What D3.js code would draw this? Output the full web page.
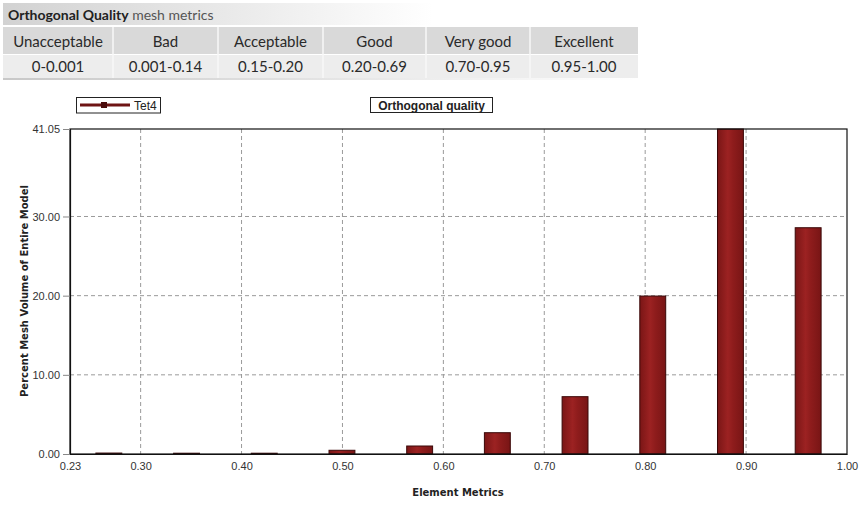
<!DOCTYPE html>
<html>
<head>
<meta charset="utf-8">
<script src="https://cdn.jsdelivr.net/npm/d3@7/dist/d3.min.js"></script>
<style>
  html, body { margin: 0; padding: 0; background: #fff; }
  svg { display: block; }
</style>
</head>
<body>
<svg id="chart" width="862" height="505"></svg>
<script>
// Mesh quality bands shown in the header table
const qualityBands = ["Unacceptable", "Bad", "Acceptable", "Good", "Very good", "Excellent"];
const bandRanges = ["0-0.001", "0.001-0.14", "0.15-0.20", "0.20-0.69", "0.70-0.95", "0.95-1.00"];

// Histogram of orthogonal quality (Tet4 elements)
const seriesName = "Tet4";
const binCenters = [0.2685, 0.3455, 0.4225, 0.4995, 0.5765, 0.6535, 0.7305, 0.8075, 0.8845, 0.9615];
const percentVolume = [0.12, 0.10, 0.10, 0.47, 1.01, 2.69, 7.24, 19.95, 41.05, 28.58];

// Axis ticks
const xTicks = [0.23, 0.30, 0.40, 0.50, 0.60, 0.70, 0.80, 0.90, 1.00];
const yTicks = [0, 10, 20, 30, 41.05];
const xGrid = [0.30, 0.40, 0.50, 0.60, 0.70, 0.80, 0.90];
const yGrid = [10, 20, 30];

const svg = d3.select("#chart");
const defs = svg.append("defs");

// ---------- header table ----------
const titleGrad = defs.append("linearGradient").attr("id", "titleGrad")
  .attr("x1", "0").attr("x2", "1").attr("y1", "0").attr("y2", "0");
titleGrad.append("stop").attr("offset", "0").attr("stop-color", "#d2d2d2");
titleGrad.append("stop").attr("offset", "0.45").attr("stop-color", "#e6e6e6");
titleGrad.append("stop").attr("offset", "1").attr("stop-color", "#ffffff");

const tableFont = "Lato, 'Open Sans', sans-serif";
svg.append("rect").attr("x", 3).attr("y", 3).attr("width", 430).attr("height", 22)
  .attr("fill", "url(#titleGrad)");
const head = svg.append("text").attr("x", 8).attr("y", 20)
  .attr("font-family", tableFont).attr("font-size", 14).attr("fill", "#222");
head.append("tspan").attr("font-weight", "bold").text("Orthogonal Quality");
head.append("tspan").attr("fill", "#555").text(" mesh metrics");

const colEdges = [3, 113, 218, 323, 426, 530, 638];
svg.append("rect").attr("x", 3).attr("y", 27).attr("width", 635).attr("height", 27).attr("fill", "#d9d9d9");
svg.append("rect").attr("x", 3).attr("y", 55).attr("width", 635).attr("height", 23).attr("fill", "#ededed");
const grad2 = defs.append("linearGradient").attr("id", "lineGrad")
  .attr("x1", "0").attr("x2", "1").attr("y1", "0").attr("y2", "0");
grad2.append("stop").attr("offset", "0").attr("stop-color", "#c8c8c8");
grad2.append("stop").attr("offset", "1").attr("stop-color", "#ffffff");
svg.append("rect").attr("x", 3).attr("y", 78).attr("width", 635).attr("height", 2).attr("fill", "url(#lineGrad)");

qualityBands.forEach((b, i) => {
  const x0 = colEdges[i], x1 = colEdges[i + 1];
  if (i > 0) {
    svg.append("line").attr("x1", x0).attr("x2", x0).attr("y1", 27).attr("y2", 78)
      .attr("stroke", "#f7f7f7").attr("stroke-width", 1.5);
  }
  svg.append("text").attr("x", (x0 + x1) / 2).attr("y", 47).attr("text-anchor", "middle")
    .attr("font-family", tableFont).attr("font-size", 15).attr("fill", "#2a2a2a").text(b);
  svg.append("text").attr("x", (x0 + x1) / 2).attr("y", 72).attr("text-anchor", "middle")
    .attr("font-family", tableFont).attr("font-size", 15).attr("fill", "#2a2a2a").text(bandRanges[i]);
});

// ---------- chart ----------
const plot = { left: 70, right: 847, top: 129, bottom: 454 };
const x = d3.scaleLinear().domain([0.23, 1.00]).range([plot.left, plot.right]);
const y = d3.scaleLinear().domain([0, 41.05]).range([plot.bottom, plot.top]);
const axisFont = "'Liberation Sans', Arial, sans-serif";

// dashed grid
svg.append("g").selectAll("line").data(xGrid).join("line")
  .attr("x1", d => x(d)).attr("x2", d => x(d))
  .attr("y1", plot.top).attr("y2", plot.bottom)
  .attr("stroke", "#9a9a9a").attr("stroke-width", 1).attr("stroke-dasharray", "4,3");
svg.append("g").selectAll("line").data(yGrid).join("line")
  .attr("x1", plot.left).attr("x2", plot.right)
  .attr("y1", d => y(d)).attr("y2", d => y(d))
  .attr("stroke", "#9a9a9a").attr("stroke-width", 1).attr("stroke-dasharray", "4,3");

// bar fill
const barGrad = defs.append("linearGradient").attr("id", "barGrad")
  .attr("x1", "0").attr("x2", "1").attr("y1", "0").attr("y2", "0");
barGrad.append("stop").attr("offset", "0").attr("stop-color", "#7a1616");
barGrad.append("stop").attr("offset", "0.4").attr("stop-color", "#9c2222");
barGrad.append("stop").attr("offset", "0.6").attr("stop-color", "#8e1c1c");
barGrad.append("stop").attr("offset", "1").attr("stop-color", "#781515");

const binWidth = (1.00 - 0.23) / binCenters.length;
const barW = binWidth / 3;
svg.append("g").selectAll("rect").data(binCenters).join("rect")
  .attr("x", d => x(d - barW / 2))
  .attr("width", d => x(d + barW / 2) - x(d - barW / 2))
  .attr("y", (d, i) => y(percentVolume[i]))
  .attr("height", (d, i) => y(0) - y(percentVolume[i]))
  .attr("fill", "url(#barGrad)")
  .attr("stroke", "#3a0808").attr("stroke-width", 1);

// frame
svg.append("rect").attr("x", plot.left).attr("y", plot.top)
  .attr("width", plot.right - plot.left).attr("height", plot.bottom - plot.top)
  .attr("fill", "none").attr("stroke", "#111").attr("stroke-width", 1.2);

// axes
const xAxis = svg.append("g").attr("transform", `translate(0,${plot.bottom})`)
  .call(d3.axisBottom(x).tickValues(xTicks).tickFormat(d3.format(".2f")).tickSize(0).tickPadding(8));
const yAxis = svg.append("g").attr("transform", `translate(${plot.left},0)`)
  .call(d3.axisLeft(y).tickValues(yTicks).tickFormat(d3.format(".2f")).tickSize(7).tickPadding(3));
[xAxis, yAxis].forEach(g => {
  g.select(".domain").attr("stroke", "#111").attr("stroke-width", 1.2);
  g.selectAll(".tick line").attr("stroke", "#888");
  g.selectAll("text").attr("font-family", axisFont).attr("font-size", 11).attr("fill", "#333");
});
yAxis.selectAll("text").attr("dy", "0.35em");

// axis titles
svg.append("text").attr("x", 458).attr("y", 496).attr("text-anchor", "middle")
  .attr("font-family", "'DejaVu Sans', Verdana, sans-serif").attr("font-weight", "bold")
  .attr("font-size", 10).attr("fill", "#222").text("Element Metrics");
svg.append("text").attr("transform", "translate(28,291) rotate(-90)").attr("text-anchor", "middle")
  .attr("font-family", "'DejaVu Sans', Verdana, sans-serif").attr("font-weight", "bold")
  .attr("font-size", 10).attr("fill", "#222").text("Percent Mesh Volume of Entire Model");

// legend
const lg = svg.append("g");
lg.append("rect").attr("x", 76.5).attr("y", 97.5).attr("width", 84).attr("height", 15.5)
  .attr("fill", "#fff").attr("stroke", "#222").attr("stroke-width", 1);
lg.append("line").attr("x1", 80).attr("x2", 130).attr("y1", 105).attr("y2", 105)
  .attr("stroke", "#6e1414").attr("stroke-width", 3);
lg.append("rect").attr("x", 101).attr("y", 102).attr("width", 6).attr("height", 6)
  .attr("fill", "#4a0c0c");
lg.append("text").attr("x", 134).attr("y", 109.5).attr("font-family", axisFont)
  .attr("font-size", 12).attr("fill", "#222").text(seriesName);

// chart title
svg.append("rect").attr("x", 370.5).attr("y", 97.5).attr("width", 122).attr("height", 15)
  .attr("fill", "#fff").attr("stroke", "#222").attr("stroke-width", 1);
svg.append("text").attr("x", 431.5).attr("y", 109.5).attr("text-anchor", "middle")
  .attr("font-family", axisFont).attr("font-weight", "bold").attr("font-size", 12)
  .attr("fill", "#222").text("Orthogonal quality");
</script>
</body>
</html>
